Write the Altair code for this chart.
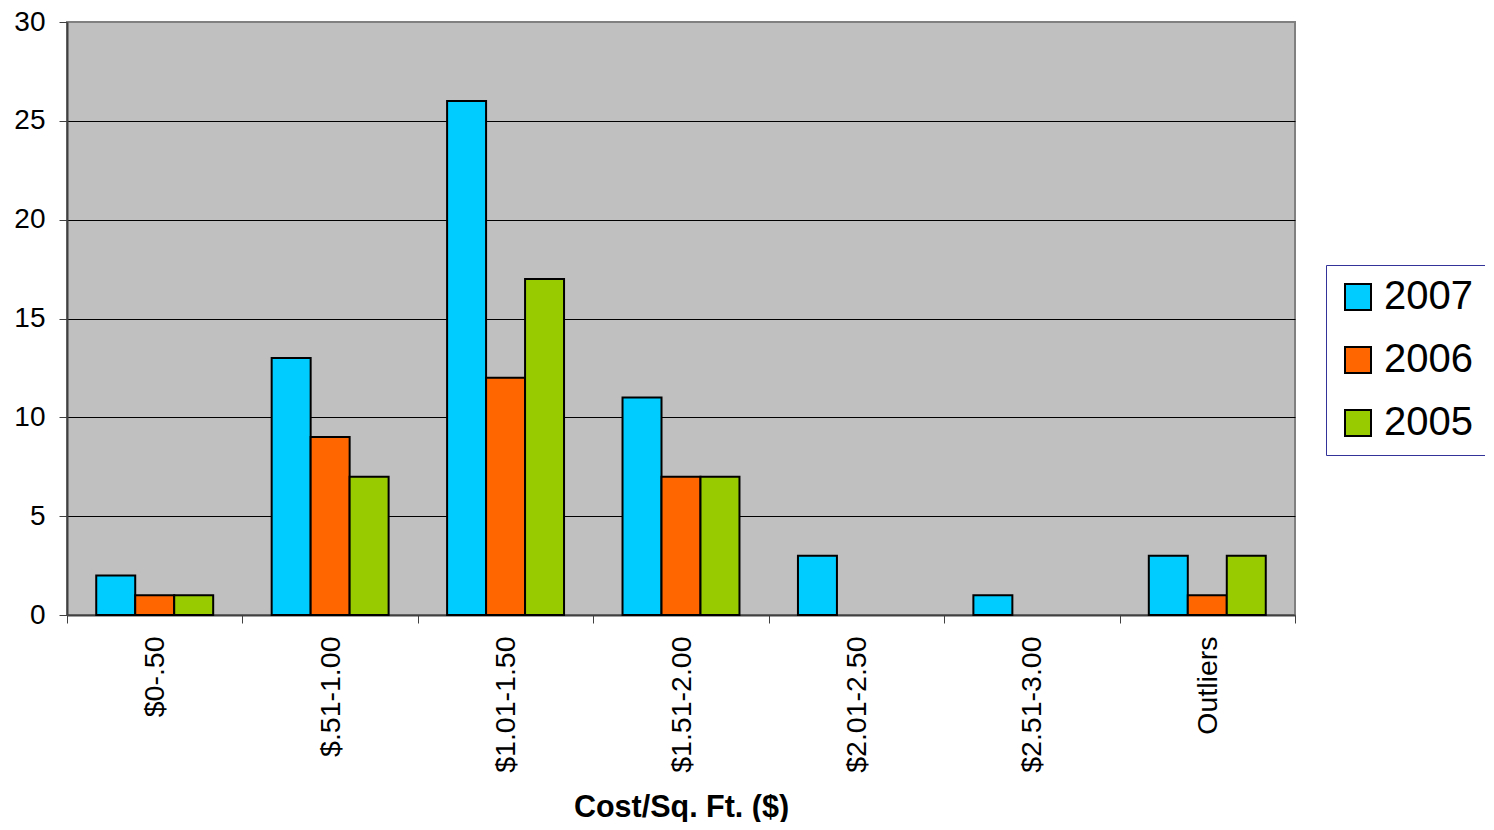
import altair as alt
import pandas as pd

categories = ["$0-.50", "$.51-1.00", "$1.01-1.50", "$1.51-2.00", "$2.01-2.50", "$2.51-3.00", "Outliers"]
years = ["2007", "2006", "2005"]
v2007 = [2, 13, 26, 11, 3, 1, 3]
v2006 = [1, 9, 12, 7, 0, 0, 1]
v2005 = [1, 7, 17, 7, 0, 0, 3]
colors = ["#00CCFF", "#FF6600", "#99CC00"]

rows = []
for yr, vals in zip(years, [v2007, v2006, v2005]):
    for c, v in zip(categories, vals):
        rows.append({"cat": c, "year": yr, "value": v})
df = pd.DataFrame(rows)

FONT = "Liberation Sans"

chart = alt.Chart(df).transform_filter("datum.value > 0").mark_bar(
    stroke="black", strokeWidth=2
).encode(
    x=alt.X("cat:N", sort=categories, title="Cost/Sq. Ft. ($)",
            scale=alt.Scale(paddingInner=0, paddingOuter=0),
            axis=alt.Axis(labelAngle=-90, labelAlign="right", labelBaseline="middle",
                          labelFontSize=28.5, labelFont=FONT, labelColor="black",
                          labelPadding=13, tickSize=8, tickColor="#404040",
                          tickBand="extent", domainColor="#404040", domainWidth=2,
                          titleFont=FONT, titleFontSize=30.5, titleFontWeight="bold",
                          titleColor="black", titleY=201, titleBaseline="alphabetic")),
    xOffset=alt.XOffset("year:N", sort=years,
                        scale=alt.Scale(paddingInner=0, paddingOuter=0.75)),
    y=alt.Y("value:Q", title=None,
            scale=alt.Scale(domain=[0, 30], nice=False),
            axis=alt.Axis(values=[0, 5, 10, 15, 20, 25, 30], labelFontSize=28, labelFont=FONT,
                          labelColor="black", labelPadding=14, tickSize=8, tickColor="#404040",
                          domainColor="#404040", domainWidth=2,
                          grid=True,
                          gridColor={"condition": {"test": "datum.value === 30 || datum.value === 0",
                                                   "value": "#808080"}, "value": "black"},
                          gridWidth=1)),
    color=alt.Color("year:N", sort=years,
                    scale=alt.Scale(domain=years, range=colors),
                    legend=alt.Legend(title=None, orient="none", legendX=1259, legendY=243,
                                      labelFontSize=40, labelFont=FONT, labelColor="black",
                                      symbolType="square", symbolSize=676, symbolStrokeColor="black",
                                      symbolStrokeWidth=2, symbolOpacity=1,
                                      labelOffset=6, rowPadding=23, padding=12,
                                      strokeColor="#333399", fillColor="white",
                                      labelLimit=300)),
).properties(
    width=1228, height=593,
    background="white",
    autosize=alt.AutoSizeParams(type="none"),
    padding={"left": 59, "top": 14, "right": 190, "bottom": 207},
).configure_view(
    fill="#C0C0C0", stroke="#808080", strokeWidth=2
)

chart.save("out.html", embed_options={"renderer": "svg", "actions": False})
